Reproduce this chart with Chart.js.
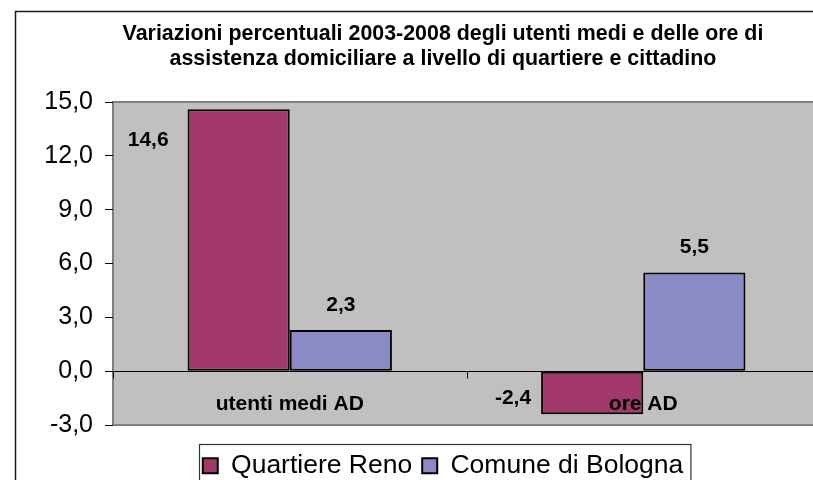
<!DOCTYPE html>
<html>
<head>
<meta charset="utf-8">
<script src="https://cdn.jsdelivr.net/npm/chart.js@4/dist/chart.umd.min.js"></script>
<style>
  html, body { margin: 0; padding: 0; background: #fff; }
  #wrap { width: 813px; height: 480px; overflow: hidden; position: relative; }
  canvas { display: block; }
</style>
</head>
<body>
<div id="wrap"><canvas id="chart" width="886" height="490"></canvas></div>
<script>
const categories = ["utenti medi AD", "ore AD"];
const quartiereReno = [14.6, -2.4];
const comuneBologna = [2.3, 5.5];
const yTicks = [-3, 0, 3, 6, 9, 12, 15];
const titleLines = [
  "Variazioni percentuali 2003-2008 degli utenti medi e delle ore di",
  "assistenza domiciliare a livello di quartiere e cittadino",
];

const FONT = "'Liberation Sans', Arial, Helvetica, sans-serif";
const fmt = (v) => v.toFixed(1).replace(".", ",");

// grey plot area, outer frame and legend frame
const decor = {
  id: "decor",
  beforeDraw(chart) {
    const { ctx, chartArea: a } = chart;
    ctx.save();
    ctx.fillStyle = "#fff";
    ctx.fillRect(0, 0, chart.width, chart.height);
    ctx.strokeStyle = "#1a1a1a";
    ctx.lineWidth = 1.5;
    ctx.strokeRect(15.5, 11.5, chart.width + 40, chart.height + 40);
    ctx.fillStyle = "#c0c0c0";
    ctx.fillRect(a.left, a.top, a.right - a.left, a.bottom - a.top);
    ctx.strokeStyle = "#808080";
    ctx.lineWidth = 2;
    ctx.strokeRect(a.left, a.top, a.right - a.left, a.bottom - a.top);
    ctx.restore();
  },
  beforeDatasetsDraw(chart) {
    // zero line and category separators
    const { ctx, chartArea: a } = chart;
    const x = chart.scales.x;
    const zero = Math.round(chart.scales.y.getPixelForValue(0)) + 0.5;
    const n = chart.data.labels.length;
    ctx.save();
    ctx.strokeStyle = "#000";
    ctx.lineWidth = 1;
    ctx.beginPath();
    ctx.moveTo(a.left, zero);
    ctx.lineTo(a.right, zero);
    for (let k = 0; k <= n; k++) {
      const px = Math.round(x.left + (k * (x.right - x.left)) / n) + 0.5;
      ctx.moveTo(px, zero);
      ctx.lineTo(px, zero + 7);
    }
    ctx.stroke();
    ctx.restore();
  },
  afterDraw(chart) {
    const boxes = chart.legend.legendHitBoxes;
    if (!boxes || !boxes.length) return;
    const left = Math.min(...boxes.map((b) => b.left)) - 4;
    const right = Math.max(...boxes.map((b) => b.left + b.width)) + 7;
    const top = boxes[0].top - 9;
    const ctx = chart.ctx;
    ctx.save();
    ctx.strokeStyle = "#333";
    ctx.lineWidth = 1.2;
    ctx.strokeRect(Math.round(left) + 0.5, Math.round(top) + 0.5, right - left, 100);
    ctx.restore();
  },
};

// value labels and category names
const labels = {
  id: "labels",
  afterDatasetsDraw(chart) {
    const { ctx } = chart;
    const y = chart.scales.y;
    const x = chart.scales.x;
    const zero = y.getPixelForValue(0);
    ctx.save();
    ctx.fillStyle = "#000";
    ctx.textBaseline = "middle";
    ctx.font = "bold 21px " + FONT;
    chart.data.datasets.forEach((ds, di) => {
      chart.getDatasetMeta(di).data.forEach((bar, i) => {
        const v = ds.data[i];
        const left = bar.x - bar.width / 2;
        if (di === 0) {
          ctx.textAlign = "right";
          if (v >= 0) ctx.fillText(fmt(v), left - 19, bar.y + 31);
          else ctx.fillText(fmt(v), left - 10, zero + 27);
        } else {
          ctx.textAlign = "center";
          ctx.fillText(fmt(v), bar.x, bar.y - 25);
        }
      });
    });
    ctx.textAlign = "center";
    chart.data.labels.forEach((lab, i) => {
      ctx.fillText(lab, x.getPixelForValue(i), zero + 33);
    });
    ctx.restore();
  },
};

new Chart(document.querySelector("#chart"), {
  type: "bar",
  data: {
    labels: categories,
    datasets: [
      {
        label: "Quartiere Reno",
        data: quartiereReno,
        backgroundColor: "#a3386a",
        borderColor: "#000",
        borderWidth: 2,
        borderSkipped: false,
      },
      {
        label: "Comune di Bologna",
        data: comuneBologna,
        backgroundColor: "#8a8ac6",
        borderColor: "#000",
        borderWidth: 2,
        borderSkipped: false,
      },
    ],
  },
  options: {
    responsive: false,
    animation: false,
    events: [],
    layout: { padding: { left: 0, right: 0, top: 0, bottom: 1 } },
    datasets: { bar: { categoryPercentage: 0.578, barPercentage: 1 } },
    scales: {
      x: {
        position: "bottom",
        afterFit: (s) => { s.height = 17.5; },
        ticks: { display: false },
        grid: { display: false },
        border: { display: false },
      },
      y: {
        min: -3,
        max: 15,
        afterFit: (s) => { s.width = 113; },
        afterBuildTicks: (s) => { s.ticks = yTicks.map((v) => ({ value: v })); },
        ticks: {
          padding: 12,
          color: "#000",
          font: { family: FONT, size: 25 },
          callback: (v) => fmt(v),
        },
        grid: { drawOnChartArea: false, tickLength: 8, color: "#000" },
        border: { display: false },
      },
      yr: {
        type: "linear",
        position: "right",
        afterFit: (s) => { s.width = 66; },
        ticks: { display: false },
        grid: { display: false },
        border: { display: false },
      },
    },
    plugins: {
      title: {
        display: true,
        text: titleLines,
        color: "#000",
        font: { family: FONT, size: 21.4, weight: "bold", lineHeight: 1.18 },
        padding: { top: 21, bottom: 30.5 },
      },
      legend: {
        position: "bottom",
        labels: {
          color: "#000",
          boxWidth: 15,
          boxHeight: 15,
          padding: 10,
          font: { family: FONT, size: 26.5 },
          generateLabels: (chart) =>
            chart.data.datasets.map((ds, i) => ({
              text: ds.label,
              fillStyle: ds.backgroundColor,
              strokeStyle: "#000",
              lineWidth: 2,
              datasetIndex: i,
            })),
        },
      },
      tooltip: { enabled: false },
    },
  },
  plugins: [decor, labels],
});
</script>
</body>
</html>
